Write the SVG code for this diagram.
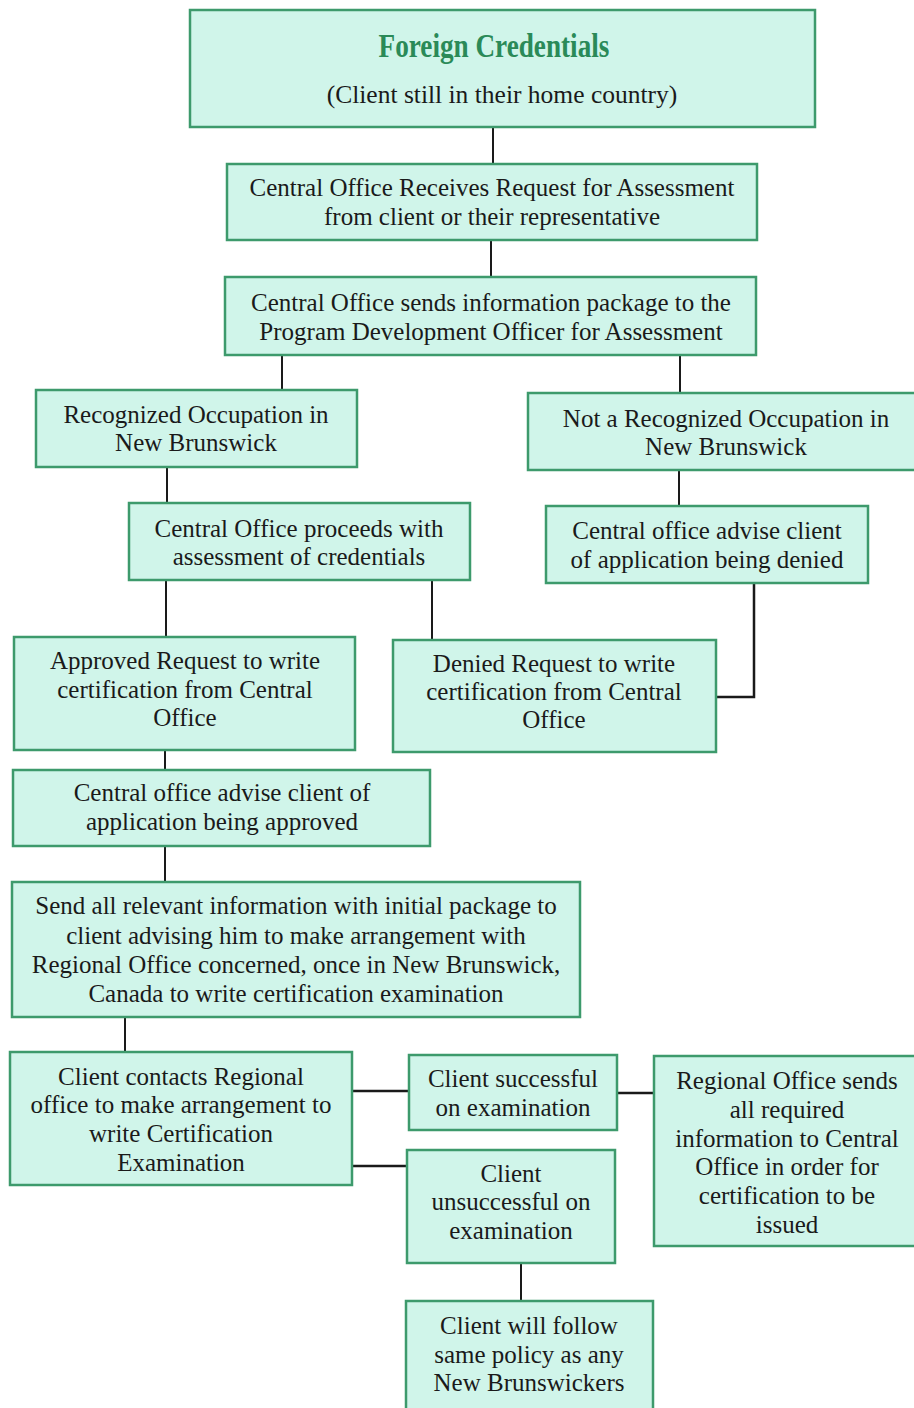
<svg xmlns="http://www.w3.org/2000/svg" width="914" height="1408" viewBox="0 0 914 1408">
<style>
.box{fill:#d0f5ea;stroke:#3d9a6c;stroke-width:2.5}
.t{font-family:"Liberation Serif","Times New Roman",serif;font-size:25px;fill:#1a1a1a;text-anchor:middle}
.title{font-family:"Liberation Serif","Times New Roman",serif;font-size:34px;font-weight:bold;fill:#2a8a58;text-anchor:middle}
.c{stroke:#1a1a1a;stroke-width:2;fill:none}
</style>
<rect width="914" height="1408" fill="#ffffff"/>
<g id="connectors">
<path class="c" d="M493,127V163"/>
<path class="c" d="M491,240V277"/>
<path class="c" d="M282,355V390"/>
<path class="c" d="M680,355V393"/>
<path class="c" d="M167,467V503"/>
<path class="c" d="M679,470V506"/>
<path class="c" d="M166,580V636"/>
<path class="c" d="M432,580V640"/>
<path class="c" d="M754,583V697H716" style="stroke-width:2.5"/>
<path class="c" d="M165,750V770"/>
<path class="c" d="M165,846V882"/>
<path class="c" d="M125,1017V1052"/>
<path class="c" d="M352,1091H409" style="stroke-width:2.5"/>
<path class="c" d="M352,1166H407" style="stroke-width:2.5"/>
<path class="c" d="M617,1093H654" style="stroke-width:2.5"/>
<path class="c" d="M521,1263V1300"/>
</g>
<g id="n1"><rect class="box" x="190" y="10" width="625" height="117"/>
<text class="title" x="494" y="57" transform="translate(494,0) scale(0.8,1) translate(-494,0)">Foreign Credentials</text>
<text class="t" x="502" y="103" style="font-size:25.5px">(Client still in their home country)</text></g>
<g id="n2"><rect class="box" x="227" y="164" width="530" height="76"/>
<text class="t" x="492" y="196">Central Office Receives Request for Assessment</text>
<text class="t" x="492" y="225">from client or their representative</text></g>
<g id="n3"><rect class="box" x="225" y="277" width="531" height="78"/>
<text class="t" x="491" y="311">Central Office sends information package to the</text>
<text class="t" x="491" y="340">Program Development Officer for Assessment</text></g>
<g id="n4"><rect class="box" x="36" y="390" width="321" height="77"/>
<text class="t" x="196" y="423">Recognized Occupation in</text>
<text class="t" x="196" y="451">New Brunswick</text></g>
<g id="n5"><rect class="box" x="528" y="393" width="390" height="77"/>
<text class="t" x="726" y="427">Not a Recognized Occupation in</text>
<text class="t" x="726" y="455">New Brunswick</text></g>
<g id="n6"><rect class="box" x="129" y="503" width="341" height="77"/>
<text class="t" x="299" y="537">Central Office proceeds with</text>
<text class="t" x="299" y="565">assessment of credentials</text></g>
<g id="n7"><rect class="box" x="546" y="506" width="322" height="77"/>
<text class="t" x="707" y="539">Central office advise client</text>
<text class="t" x="707" y="568">of application being denied</text></g>
<g id="n8"><rect class="box" x="14" y="637" width="341" height="113"/>
<text class="t" x="185" y="669">Approved Request to write</text>
<text class="t" x="185" y="698">certification from Central</text>
<text class="t" x="185" y="726">Office</text></g>
<g id="n9"><rect class="box" x="393" y="640" width="323" height="112"/>
<text class="t" x="554" y="672">Denied Request to write</text>
<text class="t" x="554" y="700">certification from Central</text>
<text class="t" x="554" y="728">Office</text></g>
<g id="n10"><rect class="box" x="13" y="770" width="417" height="76"/>
<text class="t" x="222" y="801">Central office advise client of</text>
<text class="t" x="222" y="830">application being approved</text></g>
<g id="n11"><rect class="box" x="12" y="882" width="568" height="135"/>
<text class="t" x="296" y="914">Send all relevant information with initial package to</text>
<text class="t" x="296" y="944">client advising him to make arrangement with</text>
<text class="t" x="296" y="973">Regional Office concerned, once in New Brunswick,</text>
<text class="t" x="296" y="1002">Canada to write certification examination</text></g>
<g id="n12"><rect class="box" x="10" y="1052" width="342" height="133"/>
<text class="t" x="181" y="1085">Client contacts Regional</text>
<text class="t" x="181" y="1113">office to make arrangement to</text>
<text class="t" x="181" y="1142">write Certification</text>
<text class="t" x="181" y="1171">Examination</text></g>
<g id="n13"><rect class="box" x="409" y="1055" width="208" height="75"/>
<text class="t" x="513" y="1087">Client successful</text>
<text class="t" x="513" y="1116">on examination</text></g>
<g id="n14"><rect class="box" x="407" y="1150" width="208" height="113"/>
<text class="t" x="511" y="1182">Client</text>
<text class="t" x="511" y="1210">unsuccessful on</text>
<text class="t" x="511" y="1239">examination</text></g>
<g id="n15"><rect class="box" x="654" y="1056" width="264" height="190"/>
<text class="t" x="787" y="1089">Regional Office sends</text>
<text class="t" x="787" y="1118">all required</text>
<text class="t" x="787" y="1147">information to Central</text>
<text class="t" x="787" y="1175">Office in order for</text>
<text class="t" x="787" y="1204">certification to be</text>
<text class="t" x="787" y="1233">issued</text></g>
<g id="n16"><rect class="box" x="406" y="1301" width="247" height="115"/>
<text class="t" x="529" y="1334">Client will follow</text>
<text class="t" x="529" y="1363">same policy as any</text>
<text class="t" x="529" y="1391">New Brunswickers</text></g>
</svg>
